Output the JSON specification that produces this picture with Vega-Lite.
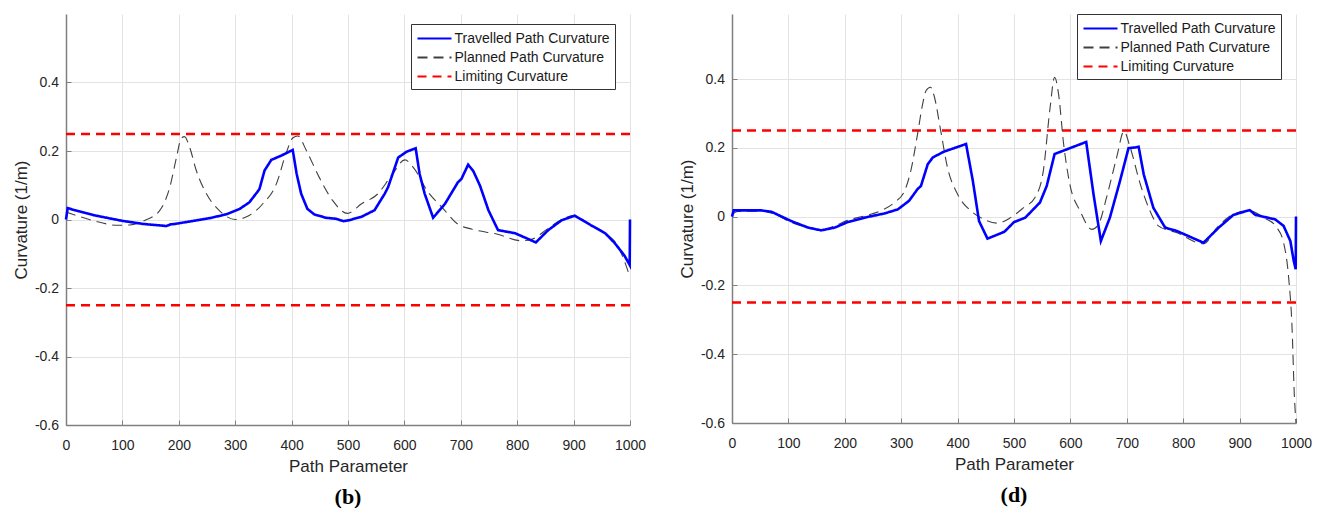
{
  "$schema": "https://vega.github.io/schema/vega-lite/v6.json",
  "background": "white",
  "padding": {"left": 12, "top": 13, "right": 5, "bottom": 0},
  "datasets": {
    "b": [
      {"s": "Limiting Curvature", "g": "u", "p": 0, "k": 0.25},
      {"s": "Limiting Curvature", "g": "u", "p": 1000, "k": 0.25},
      {"s": "Limiting Curvature", "g": "l", "p": 0, "k": -0.25},
      {"s": "Limiting Curvature", "g": "l", "p": 1000, "k": -0.25},
      {"s": "Planned Path Curvature", "g": "p", "p": 0, "k": 0.022},
      {"s": "Planned Path Curvature", "g": "p", "p": 48, "k": -0.003},
      {"s": "Planned Path Curvature", "g": "p", "p": 92, "k": -0.017},
      {"s": "Planned Path Curvature", "g": "p", "p": 113, "k": -0.016},
      {"s": "Planned Path Curvature", "g": "p", "p": 142, "k": -0.001},
      {"s": "Planned Path Curvature", "g": "p", "p": 166, "k": 0.026},
      {"s": "Planned Path Curvature", "g": "p", "p": 184, "k": 0.094},
      {"s": "Planned Path Curvature", "g": "p", "p": 196, "k": 0.182},
      {"s": "Planned Path Curvature", "g": "p", "p": 204, "k": 0.236},
      {"s": "Planned Path Curvature", "g": "p", "p": 210, "k": 0.242},
      {"s": "Planned Path Curvature", "g": "p", "p": 219, "k": 0.212},
      {"s": "Planned Path Curvature", "g": "p", "p": 231, "k": 0.143},
      {"s": "Planned Path Curvature", "g": "p", "p": 249, "k": 0.075},
      {"s": "Planned Path Curvature", "g": "p", "p": 272, "k": 0.026},
      {"s": "Planned Path Curvature", "g": "p", "p": 300, "k": 0.0},
      {"s": "Planned Path Curvature", "g": "p", "p": 319, "k": 0.007},
      {"s": "Planned Path Curvature", "g": "p", "p": 349, "k": 0.046},
      {"s": "Planned Path Curvature", "g": "p", "p": 373, "k": 0.104},
      {"s": "Planned Path Curvature", "g": "p", "p": 390, "k": 0.192},
      {"s": "Planned Path Curvature", "g": "p", "p": 402, "k": 0.238},
      {"s": "Planned Path Curvature", "g": "p", "p": 411, "k": 0.244},
      {"s": "Planned Path Curvature", "g": "p", "p": 426, "k": 0.202},
      {"s": "Planned Path Curvature", "g": "p", "p": 449, "k": 0.123},
      {"s": "Planned Path Curvature", "g": "p", "p": 473, "k": 0.055},
      {"s": "Planned Path Curvature", "g": "p", "p": 499, "k": 0.018},
      {"s": "Planned Path Curvature", "g": "p", "p": 524, "k": 0.046},
      {"s": "Planned Path Curvature", "g": "p", "p": 553, "k": 0.075},
      {"s": "Planned Path Curvature", "g": "p", "p": 577, "k": 0.128},
      {"s": "Planned Path Curvature", "g": "p", "p": 601, "k": 0.174},
      {"s": "Planned Path Curvature", "g": "p", "p": 618, "k": 0.147},
      {"s": "Planned Path Curvature", "g": "p", "p": 642, "k": 0.08},
      {"s": "Planned Path Curvature", "g": "p", "p": 666, "k": 0.037},
      {"s": "Planned Path Curvature", "g": "p", "p": 695, "k": -0.014},
      {"s": "Planned Path Curvature", "g": "p", "p": 719, "k": -0.028},
      {"s": "Planned Path Curvature", "g": "p", "p": 765, "k": -0.043},
      {"s": "Planned Path Curvature", "g": "p", "p": 808, "k": -0.062},
      {"s": "Planned Path Curvature", "g": "p", "p": 825, "k": -0.058},
      {"s": "Planned Path Curvature", "g": "p", "p": 855, "k": -0.026},
      {"s": "Planned Path Curvature", "g": "p", "p": 879, "k": 0.0},
      {"s": "Planned Path Curvature", "g": "p", "p": 902, "k": 0.012},
      {"s": "Planned Path Curvature", "g": "p", "p": 926, "k": -0.012},
      {"s": "Planned Path Curvature", "g": "p", "p": 956, "k": -0.04},
      {"s": "Planned Path Curvature", "g": "p", "p": 979, "k": -0.079},
      {"s": "Planned Path Curvature", "g": "p", "p": 1000, "k": -0.168},
      {"s": "Travelled Path Curvature", "g": "t", "p": 0, "k": 0.0},
      {"s": "Travelled Path Curvature", "g": "t", "p": 3, "k": 0.033},
      {"s": "Travelled Path Curvature", "g": "t", "p": 48, "k": 0.013},
      {"s": "Travelled Path Curvature", "g": "t", "p": 100, "k": -0.004},
      {"s": "Travelled Path Curvature", "g": "t", "p": 137, "k": -0.013},
      {"s": "Travelled Path Curvature", "g": "t", "p": 178, "k": -0.019},
      {"s": "Travelled Path Curvature", "g": "t", "p": 186, "k": -0.014},
      {"s": "Travelled Path Curvature", "g": "t", "p": 193, "k": -0.013},
      {"s": "Travelled Path Curvature", "g": "t", "p": 255, "k": 0.004},
      {"s": "Travelled Path Curvature", "g": "t", "p": 284, "k": 0.015},
      {"s": "Travelled Path Curvature", "g": "t", "p": 308, "k": 0.031},
      {"s": "Travelled Path Curvature", "g": "t", "p": 325, "k": 0.05},
      {"s": "Travelled Path Curvature", "g": "t", "p": 340, "k": 0.082},
      {"s": "Travelled Path Curvature", "g": "t", "p": 343, "k": 0.089},
      {"s": "Travelled Path Curvature", "g": "t", "p": 352, "k": 0.143},
      {"s": "Travelled Path Curvature", "g": "t", "p": 364, "k": 0.174},
      {"s": "Travelled Path Curvature", "g": "t", "p": 381, "k": 0.186},
      {"s": "Travelled Path Curvature", "g": "t", "p": 402, "k": 0.203},
      {"s": "Travelled Path Curvature", "g": "t", "p": 409, "k": 0.133},
      {"s": "Travelled Path Curvature", "g": "t", "p": 417, "k": 0.075},
      {"s": "Travelled Path Curvature", "g": "t", "p": 428, "k": 0.031},
      {"s": "Travelled Path Curvature", "g": "t", "p": 440, "k": 0.015},
      {"s": "Travelled Path Curvature", "g": "t", "p": 461, "k": 0.005},
      {"s": "Travelled Path Curvature", "g": "t", "p": 479, "k": 0.002},
      {"s": "Travelled Path Curvature", "g": "t", "p": 492, "k": -0.005},
      {"s": "Travelled Path Curvature", "g": "t", "p": 502, "k": -0.002},
      {"s": "Travelled Path Curvature", "g": "t", "p": 524, "k": 0.008},
      {"s": "Travelled Path Curvature", "g": "t", "p": 547, "k": 0.027},
      {"s": "Travelled Path Curvature", "g": "t", "p": 565, "k": 0.075},
      {"s": "Travelled Path Curvature", "g": "t", "p": 571, "k": 0.094},
      {"s": "Travelled Path Curvature", "g": "t", "p": 589, "k": 0.181},
      {"s": "Travelled Path Curvature", "g": "t", "p": 604, "k": 0.198},
      {"s": "Travelled Path Curvature", "g": "t", "p": 620, "k": 0.208},
      {"s": "Travelled Path Curvature", "g": "t", "p": 627, "k": 0.133},
      {"s": "Travelled Path Curvature", "g": "t", "p": 636, "k": 0.075},
      {"s": "Travelled Path Curvature", "g": "t", "p": 651, "k": 0.005},
      {"s": "Travelled Path Curvature", "g": "t", "p": 672, "k": 0.046},
      {"s": "Travelled Path Curvature", "g": "t", "p": 695, "k": 0.109},
      {"s": "Travelled Path Curvature", "g": "t", "p": 701, "k": 0.118},
      {"s": "Travelled Path Curvature", "g": "t", "p": 713, "k": 0.16},
      {"s": "Travelled Path Curvature", "g": "t", "p": 722, "k": 0.142},
      {"s": "Travelled Path Curvature", "g": "t", "p": 734, "k": 0.099},
      {"s": "Travelled Path Curvature", "g": "t", "p": 749, "k": 0.027},
      {"s": "Travelled Path Curvature", "g": "t", "p": 766, "k": -0.031},
      {"s": "Travelled Path Curvature", "g": "t", "p": 796, "k": -0.04},
      {"s": "Travelled Path Curvature", "g": "t", "p": 817, "k": -0.055},
      {"s": "Travelled Path Curvature", "g": "t", "p": 833, "k": -0.067},
      {"s": "Travelled Path Curvature", "g": "t", "p": 855, "k": -0.031},
      {"s": "Travelled Path Curvature", "g": "t", "p": 879, "k": -0.002},
      {"s": "Travelled Path Curvature", "g": "t", "p": 902, "k": 0.011},
      {"s": "Travelled Path Curvature", "g": "t", "p": 906, "k": 0.007},
      {"s": "Travelled Path Curvature", "g": "t", "p": 932, "k": -0.018},
      {"s": "Travelled Path Curvature", "g": "t", "p": 956, "k": -0.04},
      {"s": "Travelled Path Curvature", "g": "t", "p": 973, "k": -0.069},
      {"s": "Travelled Path Curvature", "g": "t", "p": 990, "k": -0.105},
      {"s": "Travelled Path Curvature", "g": "t", "p": 999.5, "k": -0.133},
      {"s": "Travelled Path Curvature", "g": "t", "p": 1000, "k": 0.0}
    ],
    "d": [
      {"s": "Limiting Curvature", "g": "u", "p": 0, "k": 0.25},
      {"s": "Limiting Curvature", "g": "u", "p": 1000, "k": 0.25},
      {"s": "Limiting Curvature", "g": "l", "p": 0, "k": -0.25},
      {"s": "Limiting Curvature", "g": "l", "p": 1000, "k": -0.25},
      {"s": "Planned Path Curvature", "g": "p", "p": 0, "k": 0.005},
      {"s": "Planned Path Curvature", "g": "p", "p": 10, "k": 0.015},
      {"s": "Planned Path Curvature", "g": "p", "p": 52, "k": 0.016},
      {"s": "Planned Path Curvature", "g": "p", "p": 76, "k": 0.007},
      {"s": "Planned Path Curvature", "g": "p", "p": 105, "k": -0.017},
      {"s": "Planned Path Curvature", "g": "p", "p": 135, "k": -0.032},
      {"s": "Planned Path Curvature", "g": "p", "p": 158, "k": -0.039},
      {"s": "Planned Path Curvature", "g": "p", "p": 182, "k": -0.027},
      {"s": "Planned Path Curvature", "g": "p", "p": 205, "k": -0.011},
      {"s": "Planned Path Curvature", "g": "p", "p": 235, "k": 0.002},
      {"s": "Planned Path Curvature", "g": "p", "p": 264, "k": 0.017},
      {"s": "Planned Path Curvature", "g": "p", "p": 288, "k": 0.041},
      {"s": "Planned Path Curvature", "g": "p", "p": 306, "k": 0.075},
      {"s": "Planned Path Curvature", "g": "p", "p": 317, "k": 0.133},
      {"s": "Planned Path Curvature", "g": "p", "p": 329, "k": 0.24},
      {"s": "Planned Path Curvature", "g": "p", "p": 338, "k": 0.327},
      {"s": "Planned Path Curvature", "g": "p", "p": 344, "k": 0.366},
      {"s": "Planned Path Curvature", "g": "p", "p": 352, "k": 0.376},
      {"s": "Planned Path Curvature", "g": "p", "p": 359, "k": 0.347},
      {"s": "Planned Path Curvature", "g": "p", "p": 370, "k": 0.25},
      {"s": "Planned Path Curvature", "g": "p", "p": 382, "k": 0.143},
      {"s": "Planned Path Curvature", "g": "p", "p": 400, "k": 0.065},
      {"s": "Planned Path Curvature", "g": "p", "p": 424, "k": 0.016},
      {"s": "Planned Path Curvature", "g": "p", "p": 447, "k": -0.008},
      {"s": "Planned Path Curvature", "g": "p", "p": 471, "k": -0.019},
      {"s": "Planned Path Curvature", "g": "p", "p": 494, "k": -0.003},
      {"s": "Planned Path Curvature", "g": "p", "p": 517, "k": 0.026},
      {"s": "Planned Path Curvature", "g": "p", "p": 537, "k": 0.055},
      {"s": "Planned Path Curvature", "g": "p", "p": 552, "k": 0.133},
      {"s": "Planned Path Curvature", "g": "p", "p": 564, "k": 0.317},
      {"s": "Planned Path Curvature", "g": "p", "p": 572, "k": 0.405},
      {"s": "Planned Path Curvature", "g": "p", "p": 579, "k": 0.356},
      {"s": "Planned Path Curvature", "g": "p", "p": 588, "k": 0.211},
      {"s": "Planned Path Curvature", "g": "p", "p": 599, "k": 0.094},
      {"s": "Planned Path Curvature", "g": "p", "p": 617, "k": 0.017},
      {"s": "Planned Path Curvature", "g": "p", "p": 638, "k": -0.037},
      {"s": "Planned Path Curvature", "g": "p", "p": 650, "k": -0.022},
      {"s": "Planned Path Curvature", "g": "p", "p": 664, "k": 0.055},
      {"s": "Planned Path Curvature", "g": "p", "p": 682, "k": 0.172},
      {"s": "Planned Path Curvature", "g": "p", "p": 695, "k": 0.248},
      {"s": "Planned Path Curvature", "g": "p", "p": 706, "k": 0.201},
      {"s": "Planned Path Curvature", "g": "p", "p": 724, "k": 0.094},
      {"s": "Planned Path Curvature", "g": "p", "p": 741, "k": 0.017},
      {"s": "Planned Path Curvature", "g": "p", "p": 756, "k": -0.027},
      {"s": "Planned Path Curvature", "g": "p", "p": 789, "k": -0.047},
      {"s": "Planned Path Curvature", "g": "p", "p": 836, "k": -0.079},
      {"s": "Planned Path Curvature", "g": "p", "p": 860, "k": -0.032},
      {"s": "Planned Path Curvature", "g": "p", "p": 889, "k": 0.007},
      {"s": "Planned Path Curvature", "g": "p", "p": 916, "k": 0.017},
      {"s": "Planned Path Curvature", "g": "p", "p": 943, "k": -0.003},
      {"s": "Planned Path Curvature", "g": "p", "p": 966, "k": -0.032},
      {"s": "Planned Path Curvature", "g": "p", "p": 978, "k": -0.076},
      {"s": "Planned Path Curvature", "g": "p", "p": 987, "k": -0.178},
      {"s": "Planned Path Curvature", "g": "p", "p": 993, "k": -0.323},
      {"s": "Planned Path Curvature", "g": "p", "p": 997, "k": -0.517},
      {"s": "Planned Path Curvature", "g": "p", "p": 1000, "k": -0.6},
      {"s": "Travelled Path Curvature", "g": "t", "p": 0, "k": 0.0},
      {"s": "Travelled Path Curvature", "g": "t", "p": 3, "k": 0.018},
      {"s": "Travelled Path Curvature", "g": "t", "p": 52, "k": 0.018},
      {"s": "Travelled Path Curvature", "g": "t", "p": 70, "k": 0.014},
      {"s": "Travelled Path Curvature", "g": "t", "p": 105, "k": -0.013},
      {"s": "Travelled Path Curvature", "g": "t", "p": 135, "k": -0.032},
      {"s": "Travelled Path Curvature", "g": "t", "p": 158, "k": -0.04},
      {"s": "Travelled Path Curvature", "g": "t", "p": 182, "k": -0.032},
      {"s": "Travelled Path Curvature", "g": "t", "p": 205, "k": -0.016},
      {"s": "Travelled Path Curvature", "g": "t", "p": 235, "k": -0.003},
      {"s": "Travelled Path Curvature", "g": "t", "p": 270, "k": 0.009},
      {"s": "Travelled Path Curvature", "g": "t", "p": 294, "k": 0.021},
      {"s": "Travelled Path Curvature", "g": "t", "p": 314, "k": 0.046},
      {"s": "Travelled Path Curvature", "g": "t", "p": 329, "k": 0.08},
      {"s": "Travelled Path Curvature", "g": "t", "p": 335, "k": 0.089},
      {"s": "Travelled Path Curvature", "g": "t", "p": 347, "k": 0.152},
      {"s": "Travelled Path Curvature", "g": "t", "p": 356, "k": 0.172},
      {"s": "Travelled Path Curvature", "g": "t", "p": 376, "k": 0.189},
      {"s": "Travelled Path Curvature", "g": "t", "p": 415, "k": 0.211},
      {"s": "Travelled Path Curvature", "g": "t", "p": 427, "k": 0.104},
      {"s": "Travelled Path Curvature", "g": "t", "p": 438, "k": -0.013},
      {"s": "Travelled Path Curvature", "g": "t", "p": 453, "k": -0.064},
      {"s": "Travelled Path Curvature", "g": "t", "p": 483, "k": -0.044},
      {"s": "Travelled Path Curvature", "g": "t", "p": 500, "k": -0.016},
      {"s": "Travelled Path Curvature", "g": "t", "p": 520, "k": -0.003},
      {"s": "Travelled Path Curvature", "g": "t", "p": 546, "k": 0.041},
      {"s": "Travelled Path Curvature", "g": "t", "p": 558, "k": 0.089},
      {"s": "Travelled Path Curvature", "g": "t", "p": 572, "k": 0.182},
      {"s": "Travelled Path Curvature", "g": "t", "p": 628, "k": 0.217},
      {"s": "Travelled Path Curvature", "g": "t", "p": 641, "k": 0.065},
      {"s": "Travelled Path Curvature", "g": "t", "p": 654, "k": -0.071},
      {"s": "Travelled Path Curvature", "g": "t", "p": 670, "k": -0.003},
      {"s": "Travelled Path Curvature", "g": "t", "p": 688, "k": 0.104},
      {"s": "Travelled Path Curvature", "g": "t", "p": 703, "k": 0.199},
      {"s": "Travelled Path Curvature", "g": "t", "p": 715, "k": 0.201},
      {"s": "Travelled Path Curvature", "g": "t", "p": 721, "k": 0.203},
      {"s": "Travelled Path Curvature", "g": "t", "p": 730, "k": 0.123},
      {"s": "Travelled Path Curvature", "g": "t", "p": 747, "k": 0.026},
      {"s": "Travelled Path Curvature", "g": "t", "p": 768, "k": -0.032},
      {"s": "Travelled Path Curvature", "g": "t", "p": 789, "k": -0.042},
      {"s": "Travelled Path Curvature", "g": "t", "p": 836, "k": -0.076},
      {"s": "Travelled Path Curvature", "g": "t", "p": 863, "k": -0.032},
      {"s": "Travelled Path Curvature", "g": "t", "p": 889, "k": 0.005},
      {"s": "Travelled Path Curvature", "g": "t", "p": 918, "k": 0.019},
      {"s": "Travelled Path Curvature", "g": "t", "p": 928, "k": 0.005},
      {"s": "Travelled Path Curvature", "g": "t", "p": 963, "k": -0.008},
      {"s": "Travelled Path Curvature", "g": "t", "p": 978, "k": -0.027},
      {"s": "Travelled Path Curvature", "g": "t", "p": 990, "k": -0.071},
      {"s": "Travelled Path Curvature", "g": "t", "p": 996, "k": -0.129},
      {"s": "Travelled Path Curvature", "g": "t", "p": 999.5, "k": -0.153},
      {"s": "Travelled Path Curvature", "g": "t", "p": 1000, "k": 0.0}
    ]
  },
  "spacing": 102,
  "bounds": "flush",
  "resolve": {
    "scale": {"x": "independent", "y": "independent", "color": "independent", "strokeDash": "independent"},
    "legend": {"color": "independent", "strokeDash": "independent"}
  },
  "hconcat": [
    {
      "width": 564,
      "height": 411,
      "data": {"name": "b"},
      "title": {"text": "(b)", "orient": "bottom", "anchor": "middle", "font": "Liberation Serif", "fontSize": 22, "fontWeight": "bold", "color": "#000000", "offset": 13},
      "encoding": {
        "x": {"field": "p", "type": "quantitative", "scale": {"domain": [0, 1000], "nice": false, "zero": false},
              "axis": {"title": "Path Parameter", "values": [0, 100, 200, 300, 400, 500, 600, 700, 800, 900, 1000], "format": "d", "labelFlush": false, "labelOverlap": false, "labelPadding": 18, "titlePadding": 6}},
        "y": {"field": "k", "type": "quantitative", "scale": {"domain": [-0.6, 0.6], "nice": false, "zero": false},
              "axis": {"title": "Curvature (1/m)", "values": [-0.6, -0.4, -0.2, 0, 0.2, 0.4], "labelExpr": "datum.value == 0 ? '0' : (datum.value < 0 ? '-' : '') + format(abs(datum.value), '.1f')", "labelPadding": 12.5, "titlePadding": 4}},
        "color": {"field": "s", "type": "nominal",
                  "scale": {"domain": ["Travelled Path Curvature", "Planned Path Curvature", "Limiting Curvature"], "range": ["#0000ff", "#404040", "#ff0000"]},
                  "legend": {"orient": "none", "legendX": 345, "legendY": 10, "title": null}},
        "strokeDash": {"field": "s", "type": "nominal",
                  "scale": {"domain": ["Travelled Path Curvature", "Planned Path Curvature", "Limiting Curvature"], "range": [[1, 0], [10, 6], [9, 6]]},
                  "legend": {"orient": "none", "legendX": 345, "legendY": 10, "title": null}},
        "detail": {"field": "g", "type": "nominal"}
      },
      "layer": [
        {"transform": [{"filter": "datum.s == 'Limiting Curvature'"}], "mark": {"type": "line", "strokeWidth": 2.5}},
        {"transform": [{"filter": "datum.s == 'Planned Path Curvature'"}], "mark": {"type": "line", "strokeWidth": 1.1, "interpolate": "monotone"}},
        {"transform": [{"filter": "datum.s == 'Travelled Path Curvature'"}], "mark": {"type": "line", "strokeWidth": 2.6}}
      ]
    },
    {
      "width": 564,
      "height": 409,
      "data": {"name": "d"},
      "title": {"text": "(d)", "orient": "bottom", "anchor": "middle", "font": "Liberation Serif", "fontSize": 22, "fontWeight": "bold", "color": "#000000", "offset": 13},
      "encoding": {
        "x": {"field": "p", "type": "quantitative", "scale": {"domain": [0, 1000], "nice": false, "zero": false},
              "axis": {"title": "Path Parameter", "values": [0, 100, 200, 300, 400, 500, 600, 700, 800, 900, 1000], "format": "d", "labelFlush": false, "labelOverlap": false, "labelPadding": 18, "titlePadding": 6}},
        "y": {"field": "k", "type": "quantitative", "scale": {"domain": [-0.6, 0.589], "nice": false, "zero": false},
              "axis": {"title": "Curvature (1/m)", "values": [-0.6, -0.4, -0.2, 0, 0.2, 0.4], "labelExpr": "datum.value == 0 ? '0' : (datum.value < 0 ? '-' : '') + format(abs(datum.value), '.1f')", "labelPadding": 12.5, "titlePadding": 4}},
        "color": {"field": "s", "type": "nominal",
                  "scale": {"domain": ["Travelled Path Curvature", "Planned Path Curvature", "Limiting Curvature"], "range": ["#0000ff", "#404040", "#ff0000"]},
                  "legend": {"orient": "none", "legendX": 345, "legendY": 0, "title": null}},
        "strokeDash": {"field": "s", "type": "nominal",
                  "scale": {"domain": ["Travelled Path Curvature", "Planned Path Curvature", "Limiting Curvature"], "range": [[1, 0], [10, 6], [9, 6]]},
                  "legend": {"orient": "none", "legendX": 345, "legendY": 0, "title": null}},
        "detail": {"field": "g", "type": "nominal"}
      },
      "layer": [
        {"transform": [{"filter": "datum.s == 'Limiting Curvature'"}], "mark": {"type": "line", "strokeWidth": 2.5}},
        {"transform": [{"filter": "datum.s == 'Planned Path Curvature'"}], "mark": {"type": "line", "strokeWidth": 1.1, "interpolate": "monotone"}},
        {"transform": [{"filter": "datum.s == 'Travelled Path Curvature'"}], "mark": {"type": "line", "strokeWidth": 2.6}}
      ]
    }
  ],
  "config": {
    "view": {"stroke": null},
    "font": "Liberation Sans",
    "axis": {
      "domainColor": "#808080", "domainWidth": 1.5,
      "gridColor": "#e3e3e3", "gridWidth": 1,
      "tickColor": "#808080", "tickSize": -5, "tickWidth": 1,
      "labelFont": "Liberation Sans", "labelFontSize": 14, "labelColor": "#262626",
      "titleFont": "Liberation Sans", "titleFontSize": 17, "titleFontWeight": "normal", "titleColor": "#262626"
    },
    "legend": {
      "labelFont": "Liberation Sans", "labelFontSize": 14, "labelColor": "#1a1a1a", "labelLimit": 400,
      "symbolType": "M-1,0H3.25", "symbolSize": 256, "symbolStrokeWidth": 2.2,
      "labelOffset": 19.5, "rowPadding": 2, "padding": 5,
      "strokeColor": "#333333", "fillColor": "#ffffff"
    }
  }
}
